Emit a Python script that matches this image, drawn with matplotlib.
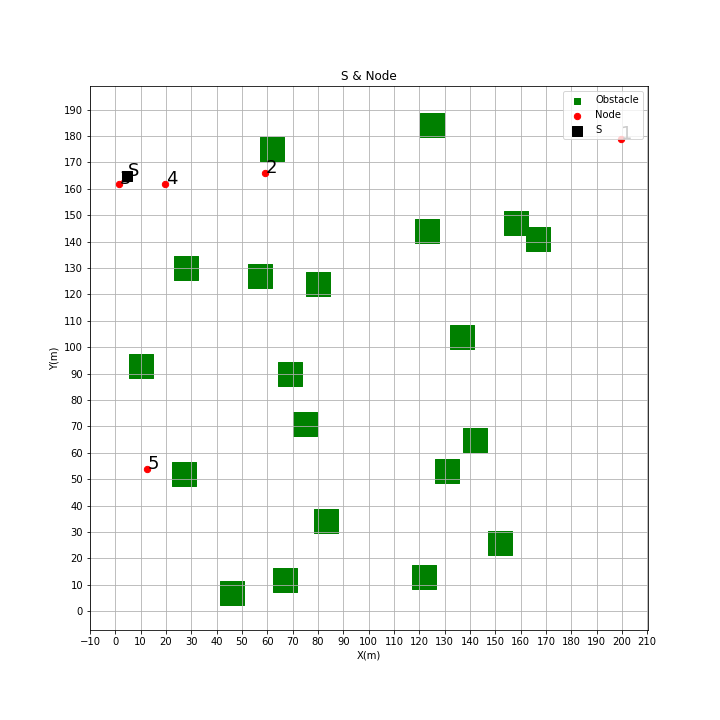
import matplotlib
matplotlib.use("Agg")
import matplotlib.pyplot as plt
import numpy as np

# obstacle centres (m)
obs_x = [62, 28, 57, 80, 125, 123, 158, 167, 10, 69, 75, 27, 137, 142, 131, 83, 67, 46, 152, 122]
obs_y = [175, 130, 127, 124, 184, 144, 147, 141, 93, 90, 71, 52, 104, 65, 53, 34, 12, 7, 26, 13]

# nodes
node_id = ["1", "2", "3", "4", "5"]
node_x = [199.5, 59.2, 1.3, 19.7, 12.6]
node_y = [178.7, 165.9, 162.0, 161.9, 54.0]

# sink
s_x, s_y = 4.8, 164.8


def main():
    fig = plt.figure(figsize=(10, 10), dpi=72)
    ax = fig.add_axes([0.125, 0.125, 0.775, 0.755])

    ax.scatter(obs_x, obs_y, marker="s", s=610, c="green", zorder=1)
    ax.scatter([], [], marker="s", s=36, c="green", label="Obstacle")
    ax.scatter(node_x, node_y, c="red", s=40, zorder=2, label="Node")
    ax.plot([node_x[2], s_x], [node_y[2], s_y], color="red", lw=1, zorder=2)
    ax.scatter([s_x], [s_y], marker="s", c="black", s=110, zorder=2, label="S")

    for i, x, y in zip(node_id, node_x, node_y):
        ax.text(x + 0.3, y, i, fontsize=18)
    ax.text(s_x + 0.3, s_y, "S", fontsize=18)

    ax.set_xlim(-10, 210.3)
    ax.set_ylim(-7.1, 198.8)
    ax.set_xticks(np.arange(-10, 211, 10))
    ax.set_yticks(np.arange(0, 191, 10))
    ax.grid(True)
    ax.set_title("S & Node")
    ax.set_xlabel("X(m)")
    ax.set_ylabel("Y(m)")
    ax.legend(loc="upper right")
    fig.savefig("out.png", dpi=72)


if __name__ == "__main__":
    main()
